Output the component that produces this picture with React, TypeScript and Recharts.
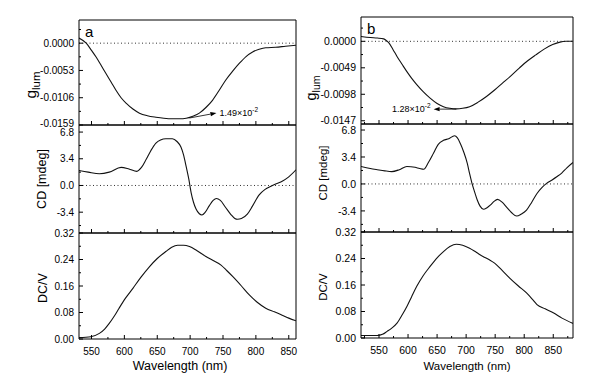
import React from 'react'
import { LineChart, Line, XAxis, YAxis, ReferenceLine } from 'recharts'

const FONT = '"Liberation Sans", Arial, Helvetica, sans-serif'

// wavelength ticks
const xMajor = [550, 600, 650, 700, 750, 800, 850]
const xMinorA = [575, 625, 675, 725, 775, 825]
const xMinorB = [525, 575, 625, 675, 725, 775, 825, 875]

// y ticks
const glumTicksA = [-0.0159, -0.0106, -0.0053, 0]
const glumMinorA = [-0.01325, -0.00795, -0.00265, 0.00265]
const glumTicksB = [-0.0147, -0.0098, -0.0049, 0]
const glumMinorB = [-0.01225, -0.00735, -0.00245, 0.00245]
const cdTicks = [-3.4, 0, 3.4, 6.8]
const cdMinor = [-5.1, -1.7, 1.7, 5.1]
const dcTicks = [0, 0.08, 0.16, 0.24, 0.32]
const dcMinor = [0.04, 0.12, 0.2, 0.28]

type Pt = { nm: number; v: number }

// panel a
const glumA: Pt[] = [
  { nm: 531, v: 0.001 }, { nm: 542, v: 0.0 }, { nm: 550, v: -0.0014 }, { nm: 557, v: -0.0027 },
  { nm: 565, v: -0.0044 }, { nm: 572, v: -0.0059 }, { nm: 580, v: -0.0076 }, { nm: 587, v: -0.0091 },
  { nm: 595, v: -0.0106 }, { nm: 603, v: -0.0117 }, { nm: 613, v: -0.0128 }, { nm: 623, v: -0.0136 },
  { nm: 635, v: -0.0141 }, { nm: 648, v: -0.0144 }, { nm: 660, v: -0.0146 }, { nm: 673, v: -0.0147 },
  { nm: 684, v: -0.0147 }, { nm: 694, v: -0.0146 }, { nm: 704, v: -0.0142 }, { nm: 714, v: -0.0136 },
  { nm: 724, v: -0.0125 }, { nm: 734, v: -0.0111 }, { nm: 744, v: -0.0092 }, { nm: 754, v: -0.0072 },
  { nm: 765, v: -0.0054 }, { nm: 775, v: -0.0039 }, { nm: 785, v: -0.0026 }, { nm: 795, v: -0.0017 },
  { nm: 805, v: -0.0012 }, { nm: 815, v: -0.0009 }, { nm: 830, v: -0.0008 }, { nm: 845, v: -0.0006 },
  { nm: 861, v: -0.0004 },
]

const cdA: Pt[] = [
  { nm: 531, v: 1.9 }, { nm: 545, v: 1.7 }, { nm: 562, v: 1.5 }, { nm: 577, v: 1.7 },
  { nm: 595, v: 2.3 }, { nm: 607, v: 2.1 }, { nm: 619, v: 1.8 }, { nm: 626, v: 2.3 },
  { nm: 633, v: 3.3 }, { nm: 640, v: 4.4 }, { nm: 648, v: 5.4 }, { nm: 655, v: 5.8 },
  { nm: 663, v: 5.95 }, { nm: 673, v: 5.95 }, { nm: 680, v: 5.6 }, { nm: 686, v: 4.9 },
  { nm: 690, v: 3.9 }, { nm: 694, v: 2.4 }, { nm: 698, v: 0.8 }, { nm: 701.5, v: -0.9 },
  { nm: 705, v: -2.1 }, { nm: 709, v: -3.0 }, { nm: 714, v: -3.6 }, { nm: 718, v: -3.75 },
  { nm: 723, v: -3.4 }, { nm: 729, v: -2.6 }, { nm: 735, v: -1.9 }, { nm: 740, v: -1.65 },
  { nm: 746, v: -1.9 }, { nm: 754, v: -2.8 }, { nm: 762, v: -3.7 }, { nm: 768, v: -4.2 },
  { nm: 772, v: -4.3 }, { nm: 778, v: -4.2 }, { nm: 787, v: -3.65 }, { nm: 795, v: -2.6 },
  { nm: 805, v: -1.2 }, { nm: 814, v: -0.5 }, { nm: 823, v: -0.1 }, { nm: 832, v: 0.25 },
  { nm: 840, v: 0.55 }, { nm: 850, v: 1.1 }, { nm: 861, v: 2.0 },
]

const dcA: Pt[] = [
  { nm: 531, v: 0.004 }, { nm: 549, v: 0.007 }, { nm: 562, v: 0.017 }, { nm: 570, v: 0.03 },
  { nm: 577, v: 0.047 }, { nm: 585, v: 0.07 }, { nm: 592, v: 0.093 }, { nm: 602, v: 0.124 },
  { nm: 613, v: 0.153 }, { nm: 625, v: 0.186 }, { nm: 638, v: 0.218 }, { nm: 650, v: 0.243 },
  { nm: 663, v: 0.264 }, { nm: 672, v: 0.277 }, { nm: 681, v: 0.283 }, { nm: 690, v: 0.283 },
  { nm: 699, v: 0.279 }, { nm: 710, v: 0.267 }, { nm: 724, v: 0.249 }, { nm: 735, v: 0.237 },
  { nm: 747, v: 0.223 }, { nm: 756, v: 0.206 }, { nm: 765, v: 0.188 }, { nm: 778, v: 0.16 },
  { nm: 790, v: 0.133 }, { nm: 802, v: 0.111 }, { nm: 815, v: 0.093 }, { nm: 828, v: 0.082 },
  { nm: 840, v: 0.072 }, { nm: 850, v: 0.063 }, { nm: 861, v: 0.055 },
]

// panel b
const glumB: Pt[] = [
  { nm: 519, v: 0.0009 }, { nm: 535, v: 0.0007 }, { nm: 547, v: 0.0006 }, { nm: 558, v: 0.00045 },
  { nm: 563, v: 0.0001 }, { nm: 567, v: -0.0003 }, { nm: 574, v: -0.0015 }, { nm: 581, v: -0.0028 },
  { nm: 590, v: -0.0043 }, { nm: 598, v: -0.0056 }, { nm: 606, v: -0.0068 }, { nm: 615, v: -0.008 },
  { nm: 626, v: -0.0093 }, { nm: 638, v: -0.0105 }, { nm: 650, v: -0.0115 }, { nm: 661, v: -0.0121 },
  { nm: 672, v: -0.0124 }, { nm: 683, v: -0.0125 }, { nm: 694, v: -0.0124 }, { nm: 706, v: -0.0121 },
  { nm: 720, v: -0.0113 }, { nm: 735, v: -0.0102 }, { nm: 749, v: -0.009 }, { nm: 763, v: -0.0077 },
  { nm: 778, v: -0.0063 }, { nm: 792, v: -0.0049 }, { nm: 806, v: -0.0036 }, { nm: 820, v: -0.0025 },
  { nm: 835, v: -0.0014 }, { nm: 849, v: -0.0006 }, { nm: 860, v: -0.0002 }, { nm: 872, v: 0.0 },
  { nm: 884, v: 0.0 },
]

const cdB: Pt[] = [
  { nm: 519, v: 2.2 }, { nm: 535, v: 1.95 }, { nm: 547, v: 1.8 }, { nm: 560, v: 1.65 },
  { nm: 572, v: 1.56 }, { nm: 585, v: 1.8 }, { nm: 598, v: 2.2 }, { nm: 612, v: 2.1 },
  { nm: 620, v: 1.95 }, { nm: 627, v: 1.86 }, { nm: 635, v: 2.7 }, { nm: 644, v: 3.9 },
  { nm: 652, v: 5.0 }, { nm: 661, v: 5.5 }, { nm: 670, v: 5.7 }, { nm: 680, v: 6.07 },
  { nm: 685, v: 5.8 }, { nm: 690, v: 5.1 }, { nm: 696, v: 4.0 }, { nm: 702, v: 2.6 },
  { nm: 706, v: 1.3 }, { nm: 710, v: 0.1 }, { nm: 715, v: -1.1 }, { nm: 719, v: -2.0 },
  { nm: 724, v: -2.8 }, { nm: 730, v: -3.2 }, { nm: 736, v: -3.0 }, { nm: 742, v: -2.65 },
  { nm: 748, v: -2.2 }, { nm: 754, v: -1.95 }, { nm: 762, v: -2.3 }, { nm: 770, v: -2.95 },
  { nm: 778, v: -3.6 }, { nm: 787, v: -4.05 }, { nm: 795, v: -3.8 }, { nm: 804, v: -3.3 },
  { nm: 813, v: -2.3 }, { nm: 822, v: -1.2 }, { nm: 830, v: -0.5 }, { nm: 839, v: 0.1 },
  { nm: 848, v: 0.5 }, { nm: 856, v: 0.9 }, { nm: 865, v: 1.4 }, { nm: 873, v: 2.0 },
  { nm: 884, v: 2.7 },
]

const dcB: Pt[] = [
  { nm: 519, v: 0.0075 }, { nm: 535, v: 0.0075 }, { nm: 547, v: 0.0075 }, { nm: 556, v: 0.011 },
  { nm: 564, v: 0.02 }, { nm: 572, v: 0.03 }, { nm: 581, v: 0.045 }, { nm: 590, v: 0.07 },
  { nm: 598, v: 0.095 }, { nm: 606, v: 0.124 }, { nm: 615, v: 0.156 }, { nm: 626, v: 0.188 },
  { nm: 638, v: 0.216 }, { nm: 650, v: 0.242 }, { nm: 661, v: 0.261 }, { nm: 672, v: 0.276 },
  { nm: 683, v: 0.283 }, { nm: 694, v: 0.28 }, { nm: 706, v: 0.271 }, { nm: 718, v: 0.258 },
  { nm: 729, v: 0.246 }, { nm: 740, v: 0.236 }, { nm: 749, v: 0.226 }, { nm: 762, v: 0.204 },
  { nm: 775, v: 0.181 }, { nm: 790, v: 0.157 }, { nm: 804, v: 0.136 }, { nm: 815, v: 0.115 },
  { nm: 822, v: 0.101 }, { nm: 836, v: 0.088 }, { nm: 850, v: 0.076 }, { nm: 865, v: 0.06 },
  { nm: 884, v: 0.044 },
]

const MT = 6

type PanelProps = {
  left: number
  top: number
  plotLeft: number
  plotW: number
  plotH: number
  xDomain: [number, number]
  yDomain: [number, number]
  xMinor: number[]
  yMajor: number[]
  yMinor: number[]
  digits: number
  data: Pt[]
  showX?: boolean
  zero?: boolean
  letter?: string
  yTitle: 'glum' | string
  yTitleAt: [number, number]
  xTitleAt?: [number, number]
  tickFont: number
  titleFont: number
  children?: React.ReactNode
}

const near = (list: number[], v: number) => list.some((m) => Math.abs(m - v) < 1e-9)

function Panel(p: PanelProps) {
  const ox = p.left
  const oy = p.top - MT
  const axisH = p.showX ? 44 : 10
  const width = p.plotLeft + p.plotW + 8
  const height = MT + p.plotH + axisH
  const yBot = MT + p.plotH
  const xTicks = [...xMajor, ...p.xMinor].sort((a, b) => a - b)
  const yTicks = [...p.yMajor, ...p.yMinor].sort((a, b) => a - b)

  const xTick = (t: any) => {
    const major = near(xMajor, t.payload.value)
    return (
      <g>
        <line x1={t.x} x2={t.x} y1={yBot} y2={yBot - (major ? 4 : 2)} stroke="#000" />
        {major && p.showX && (
          <text x={t.x} y={yBot + 16} textAnchor="middle" fontSize={p.tickFont} fontFamily={FONT} fill="#000">
            {t.payload.value}
          </text>
        )}
      </g>
    )
  }

  const yTick = (t: any) => {
    const v = t.payload.value
    const major = near(p.yMajor, v)
    // label sitting on the shared edge with the panel below is nudged up a little
    const nudge = !p.showX && Math.abs(v - p.yDomain[0]) < 1e-9 ? -1.5 : 0
    return (
      <g>
        <line x1={p.plotLeft} x2={p.plotLeft + (major ? 4 : 2)} y1={t.y} y2={t.y} stroke="#000" />
        {major && (
          <text x={p.plotLeft - 5} y={t.y + nudge} dy="0.35em" textAnchor="end" fontSize={p.tickFont} fontFamily={FONT} fill="#000">
            {Number(v).toFixed(p.digits)}
          </text>
        )}
      </g>
    )
  }

  const yTitle = () => {
    const cx = p.yTitleAt[0] - ox
    const cy = p.yTitleAt[1] - oy
    const bx = cx + p.titleFont * 0.35
    if (p.yTitle === 'glum') {
      return (
        <text x={bx} y={cy} transform={`rotate(-90 ${bx} ${cy})`} textAnchor="middle" fontFamily={FONT} fill="#000" fontSize={p.titleFont + 3}>
          g<tspan fontSize={p.titleFont - 1} dy={4}>lum</tspan>
        </text>
      )
    }
    return (
      <text x={bx} y={cy} transform={`rotate(-90 ${bx} ${cy})`} textAnchor="middle" fontFamily={FONT} fill="#000" fontSize={p.titleFont}>
        {p.yTitle}
      </text>
    )
  }

  const xTitle = () =>
    p.xTitleAt ? (
      <text x={p.xTitleAt[0] - ox} y={p.xTitleAt[1] - oy} textAnchor="middle" fontFamily={FONT} fill="#000" fontSize={p.titleFont}>
        Wavelength (nm)
      </text>
    ) : null

  return (
    <div style={{ position: 'absolute', left: ox, top: oy }}>
      <LineChart width={width} height={height} data={p.data} margin={{ top: MT, right: 8, left: 0, bottom: 0 }}>
        <XAxis
          dataKey="nm"
          type="number"
          domain={p.xDomain}
          allowDataOverflow
          ticks={xTicks}
          interval={0}
          tick={xTick}
          tickLine={false}
          height={axisH}
          axisLine={{ stroke: '#000' }}
          label={p.xTitleAt ? xTitle : undefined}
        />
        <YAxis
          type="number"
          domain={p.yDomain}
          allowDataOverflow
          ticks={yTicks}
          interval={0}
          tick={yTick}
          tickLine={false}
          width={p.plotLeft}
          axisLine={{ stroke: '#000' }}
          label={yTitle}
        />
        <ReferenceLine x={p.xDomain[1]} stroke="#000" />
        <ReferenceLine
          y={p.yDomain[1]}
          stroke="#000"
          label={
            p.letter
              ? { value: p.letter, position: 'insideTopLeft', offset: 6, fontSize: 15, fontFamily: FONT, fill: '#000' }
              : undefined
          }
        />
        {p.zero && <ReferenceLine y={0} stroke="#333" strokeDasharray="1 2.5" />}
        <Line dataKey="v" type="monotone" stroke="#111" strokeWidth={1.1} dot={false} isAnimationActive={false} />
        {p.children}
      </LineChart>
    </div>
  )
}

const arrowShape = (text: string, side: 'left' | 'right') => (s: any) => {
  const { x1, y1, x2, y2 } = s
  const ang = Math.atan2(y2 - y1, x2 - x1)
  const L = 6
  const W = 2.2
  const bx = x2 - L * Math.cos(ang)
  const by = y2 - L * Math.sin(ang)
  const pts = `${x2},${y2} ${bx - W * Math.sin(ang)},${by + W * Math.cos(ang)} ${bx + W * Math.sin(ang)},${by - W * Math.cos(ang)}`
  const tx = side === 'right' ? x2 + 3 : x2 - 3
  return (
    <g>
      <line x1={x1} y1={y1} x2={bx} y2={by} stroke="#000" strokeWidth={0.8} />
      <polygon points={pts} fill="#000" />
      <text x={tx} y={y2 + 3} textAnchor={side === 'right' ? 'start' : 'end'} fontSize={9} fontFamily={FONT} fill="#000">
        {text}
        <tspan dy={-4} fontSize={6.5}>-2</tspan>
      </text>
    </g>
  )
}

export default function App() {
  const A = { left: 0, plotLeft: 79, plotW: 217, xDomain: [531, 861] as [number, number], xMinor: xMinorA, tickFont: 10, titleFont: 12.5 }
  const B = { left: 290, plotLeft: 71, plotW: 212, xDomain: [519, 884] as [number, number], xMinor: xMinorB, tickFont: 10.5, titleFont: 11.5 }
  return (
    <div style={{ position: 'absolute', left: 0, top: 0, width: 612, height: 379, background: '#fff', overflow: 'hidden' }}>
      <Panel {...A} top={20} plotH={105} yDomain={[-0.0159, 0.0045]} yMajor={glumTicksA} yMinor={glumMinorA} digits={4}
        data={glumA} zero letter="a" yTitle="glum" yTitleAt={[32, 85]}>
        <ReferenceLine segment={[{ x: 699, y: -0.01454 }, { x: 740, y: -0.01357 }]} shape={arrowShape('1.49×10', 'right')} />
      </Panel>
      <Panel {...A} top={125} plotH={108} yDomain={[-6.05, 7.7]} yMajor={cdTicks} yMinor={cdMinor} digits={1}
        data={cdA} zero yTitle="CD [mdeg]" yTitleAt={[42, 179]} />
      <Panel {...A} top={233} plotH={106} yDomain={[0, 0.32]} yMajor={dcTicks} yMinor={dcMinor} digits={2}
        data={dcA} showX yTitle="DC/V" yTitleAt={[43, 288]} xTitleAt={[180, 370]} />

      <Panel {...B} top={17} plotH={107} yDomain={[-0.0153, 0.0045]} yMajor={glumTicksB} yMinor={glumMinorB} digits={4}
        data={glumB} zero letter="b" yTitle="glum" yTitleAt={[312, 88]}>
        <ReferenceLine segment={[{ x: 683, y: -0.01255 }, { x: 644, y: -0.01255 }]} shape={arrowShape('1.28×10', 'left')} />
      </Panel>
      <Panel {...B} top={124} plotH={108} yDomain={[-6.06, 7.56]} yMajor={cdTicks} yMinor={cdMinor} digits={1}
        data={cdB} zero yTitle="CD [mdeg]" yTitleAt={[323, 173]} />
      <Panel {...B} top={232} plotH={106} yDomain={[0, 0.32]} yMajor={dcTicks} yMinor={dcMinor} digits={2}
        data={dcB} showX yTitle="DC/V" yTitleAt={[323, 287]} xTitleAt={[467, 370]} />
    </div>
  )
}
